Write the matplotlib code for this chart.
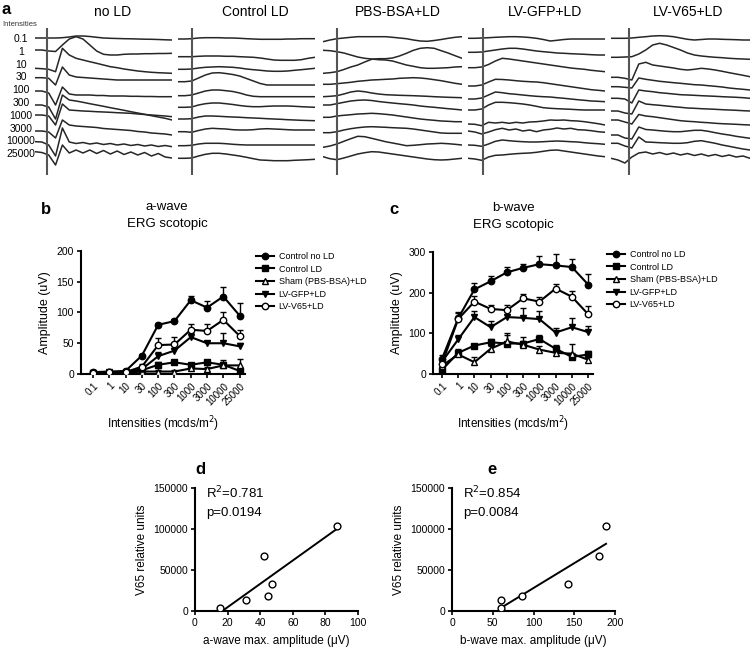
import numpy as np
import matplotlib.pyplot as plt

plt.rcParams['font.family'] = ['Liberation Sans', 'DejaVu Sans']

W, H = 752, 657

# ---------------- data ----------------
intensities = ["0.1", "1", "10", "30", "100", "300", "1000", "3000", "10000", "25000"]
groups = ["Control no LD", "Control LD", "Sham (PBS-BSA)+LD", "LV-GFP+LD", "LV-V65+LD"]
panel_names = ["no LD", "Control LD", "PBS-BSA+LD", "LV-GFP+LD", "LV-V65+LD"]

# a-wave (uV), mean and upper SEM
aw_ctrl_noLD = [3, 4, 5, 30, 80, 86, 120, 108, 126, 95]
aw_ctrl_LD = [1, 2, 3, 6, 15, 19, 15, 19, 15, 5]
aw_sham = [1, 2, 2, 4, 4, 4, 9, 8, 14, 14]
aw_gfp = [2, 3, 3, 8, 29, 38, 60, 50, 50, 45]
aw_v65 = [2, 3, 3, 12, 47, 48, 72, 70, 88, 62]
aw_err_ctrl_noLD = [2, 2, 2, 3, 3, 3, 7, 10, 15, 20]
aw_err_ctrl_LD = [1, 1, 1, 2, 4, 3, 3, 3, 4, 5]
aw_err_sham = [1, 1, 1, 2, 2, 2, 3, 3, 8, 10]
aw_err_gfp = [1, 1, 1, 3, 6, 4, 6, 4, 17, 5]
aw_err_v65 = [1, 1, 2, 4, 12, 12, 10, 12, 12, 10]

# b-wave (uV)
bw_ctrl_noLD = [37, 137, 208, 228, 250, 261, 270, 267, 263, 220]
bw_ctrl_LD = [10, 52, 70, 78, 75, 75, 86, 62, 42, 48]
bw_sham = [20, 48, 29, 62, 80, 72, 60, 52, 50, 35]
bw_gfp = [30, 85, 140, 115, 140, 138, 135, 102, 115, 103]
bw_v65 = [25, 135, 178, 160, 157, 186, 178, 210, 190, 147]
bw_err_ctrl_noLD = [10, 15, 15, 12, 12, 10, 20, 27, 20, 25]
bw_err_ctrl_LD = [5, 10, 5, 8, 25, 15, 10, 10, 10, 8]
bw_err_sham = [5, 8, 12, 8, 15, 10, 8, 8, 25, 8]
bw_err_gfp = [8, 10, 15, 15, 20, 25, 20, 10, 22, 15]
bw_err_v65 = [8, 15, 15, 10, 12, 10, 12, 12, 15, 20]

# correlations
v65_units = [3250, 13400, 67000, 18700, 32900, 104000]
a_max = [15.4, 31.4, 42.2, 45.0, 47.3, 87.1]
b_max = [60.2, 60.2, 180.0, 86.0, 142.0, 189.0]
d_stats = ("0.781", "0.0194")
e_stats = ("0.854", "0.0084")

# ERG traces, displacement per intensity row (sampled on 21 equal steps)
tr_noLD = [
    [0, 0, 0, 0, 0.3, 1, 2, 2, 1.5, 0.7, 0, -0.3, -0.5, -0.7, -0.8, -1, -1.2, -1.3, -1.5, -1.8, -2],
    [1, 1, 0, -0.5, 6, 12, 14.3, 12, 6, 0, -3.3, -4, -4, -3.3, -3, -3, -2.7, -2.7, -2.5, -2.5, -2.3],
    [-4.3, -4.7, -5.3, -7.7, 15.7, 9, 5.7, 4, 2.3, 0.7, -1, -2.7, -3.7, -5, -6, -7, -7.7, -8.3, -8.7, -9, -9.3],
    [-0.7, -0.7, -1.3, -8, 10, 2, 0, -0.5, -1, -1.5, -2, -2.5, -3, -3, -3, -3, -3, -3, -3, -3, -3],
    [-1, -1, -3, -15, 3, -4, -5, -5, -5, -5.5, -5.5, -6, -6, -6, -6.3, -6.3, -6.5, -6.5, -6.7, -6.7, -6.7],
    [-2, -2, -4, -16, 8, 3, 2, 0.7, -0.7, -2, -3.3, -4.7, -6, -7.3, -8.7, -10, -11.3, -12.7, -14, -15.3, -17],
    [1, 1, 0, -9, 12, 6, 5.5, 5, 4.7, 4.3, 4, 3.7, 3.3, 3, 2.7, 2, 1.5, 1, 0.5, 0, -0.7],
    [-2, -2, -3, -9, 9, 4, 3, 2.5, 2, 1.5, 0.5, 0, -0.5, -1, -1.5, -2.5, -3, -4, -4.5, -5, -6],
    [0.3, 0, -3, -14, 14, 0, -1.5, -0.5, -2, -1, -2.5, -1.5, -3, -2, -3.5, -2.5, -4, -3, -4.5, -3.5, -4.7],
    [3.3, 2.5, 0, -10, 10, 2, 5, 2, 5, 1.5, 4.5, 1, 4, 0.5, 3, 0, 2.5, -1, 1.5, -2, -3],
]
tr_ctrlLD = [
    [-1, -1, -0.7, 0, 0.3, 0.3, 0.3, 0, 0, -0.3, -0.7, -1, -1.3, -1.3, -1.3, -1.3, -1, -1, -0.7, -0.7, -0.7],
    [-5.7, -5.7, -5.7, -5.3, -5, -5, -5, -5.3, -5.3, -5.7, -6, -6.3, -7, -8, -9, -9.3, -9.3, -9.3, -8.7, -7.3, -6.3],
    [-5.3, -5.3, -5, -4, -3.3, -3, -2.7, -3, -3.3, -4, -5, -5.7, -6.3, -7, -7.3, -7.3, -7, -6.3, -5.7, -5, -4.3],
    [-4.7, -4.7, -4, -1, 2, 4, 4.3, 3.5, 2.5, 1, -1.5, -4, -6.5, -8, -8, -8, -8, -8, -8, -8, -8],
    [-5.7, -5.7, -5, -3, -1, 0, 0, -0.7, -1.5, -3, -5, -6.3, -6.7, -6.7, -6.7, -6.7, -6.7, -6.7, -6.7, -6.7, -6.7],
    [-4.3, -4.3, -4, -2, -0.7, 0, 0, -0.7, -1.5, -2.5, -3.3, -3.7, -3.7, -3.3, -3, -3, -3, -3.3, -3.7, -4, -4.3],
    [-3, -3, -2.7, -1, 0, 0, -0.3, -0.7, -1, -1.3, -1.7, -2, -2.3, -2.7, -3, -3.3, -3.7, -4, -4.3, -4.5, -4.7],
    [-2.7, -2.7, -3.3, -1.5, 0, 0.7, 0.3, 0, -0.7, -1, -1, -0.7, 0, 0.3, 0, -0.3, -0.7, -1, -1, -1, -1],
    [-3.7, -3.7, -3.3, -2, -1.3, -1.3, -1.3, -1.7, -2.3, -2.7, -3, -3, -3, -3, -3, -3, -3, -3, -3, -3, -3],
    [-3.3, -3.3, -3, -1, 0.7, 1.7, 1.7, 1, 0, -1, -2.3, -3.7, -5, -5.3, -5.7, -5.7, -5.7, -5.3, -5, -4.7, -4.3],
]
tr_pbs = [
    [-3.7, -2, -0.7, 0, 0.7, 1.3, 1.3, 1.3, 1.3, 1.3, 0.7, 0, -0.7, -2, -3, -3.3, -2.5, -1.5, -0.3, 0.7, 1.3],
    [0.7, 0.3, -0.7, -2, -4, -6, -7.3, -8, -8.7, -9, -10, -12, -14, -15.3, -16.7, -17.3, -17.3, -17, -16.7, -16, -15.7],
    [-9.3, -8.7, -7.7, -5.5, -3, -1, 2, 4.7, 5.3, 5.3, 6, 8, 10.7, 13.7, 15.7, 16.3, 15.7, 13.3, 11, 8.3, 5.7],
    [-7.3, -7.3, -6.7, -6, -5.3, -4.3, -3.7, -3, -2.7, -2.3, -2, -1.3, -1, -0.7, -1, -1.7, -2.7, -3.7, -5, -6.3, -7.3],
    [-6.7, -6.3, -5.7, -4, -2, -1, -1.7, -3, -4, -4.7, -5, -5.3, -5.5, -5.7, -6, -6.3, -6.7, -7, -7.3, -7.5, -7.7],
    [-2, -2, -0.7, 0.7, 2, 2.7, 3, 2.5, 1.5, 0.7, 0, -0.7, -1.3, -2, -3, -3.7, -4.3, -5, -5.7, -6.3, -7],
    [-1.3, -1.3, 0, 0.7, 1.3, 2, 2.3, 2.7, 2.3, 1.7, 1, 0, -1, -2, -3, -3.7, -4.3, -5, -5.3, -5.7, -5.7],
    [-3.7, -3.7, -2.7, -1, 0.3, 1.3, 2, 2.3, 2, 1.7, 1.3, 1, 0.7, 0, -1, -2, -3, -4, -4.3, -4.3, -4.3],
    [-5.3, -4, -2, 0.7, 3.3, 5.7, 5.3, 3.7, 2, 0.3, -1, -2.3, -3.7, -3.3, -2.7, -2, -1.7, -1.3, -1.7, -2.3, -3],
    [-1.7, -3.7, -4.7, -3, -1, 1, 2.3, 3.3, 3, 2, 1, 0, -1, -2, -3, -4, -4.7, -5, -4.7, -4, -3.3],
]
tr_gfp = [
    [-0.3, -0.3, 0, 0.3, 0.7, 1, 1.3, 1.3, 1, 0.5, -0.3, -1.5, -3, -2.3, -1.5, -1, -1, -1, -1, -1, -1],
    [-1.3, -1.3, -1, 0, 1, 2, 2.7, 2.7, 2, 1, 0, -0.7, -1.3, -2, -2.3, -2.7, -3, -3.3, -3.7, -4, -4],
    [-3.7, -3.7, -3, -0.5, 3, 5.7, 5, 4, 3, 2, 1, 0, -1, -2, -3, -4, -4.7, -5.3, -6.3, -7, -7.7],
    [-9, -9, -8, -5, -2.3, -2.5, -3, -3.7, -4.3, -4.7, -5, -5.7, -6.7, -7.7, -8.7, -9.7, -10.7, -11.7, -12.7, -13.3, -14],
    [-9, -9, -8, -5, -2, -2.7, -3.7, -4.3, -5, -5.7, -6.3, -6.7, -7, -7.7, -8.3, -9, -9.7, -10.3, -11, -11.3, -11.7],
    [-7, -7, -6, -2, 0.7, 0.7, 0.3, -0.3, -1, -2, -3.3, -4.7, -5.3, -5.7, -6, -6.3, -6.7, -7, -7, -7, -7],
    [-8, -8.3, -9.7, -6.3, -7, -6.3, -7.3, -6.3, -7, -6, -5.7, -5, -4, -4.3, -4, -4.7, -5, -5.7, -6.7, -7.7, -9],
    [-2, -3, -5, -3, -0.7, 0.7, -1, 0, -2, -1, -2.7, -1, -0.3, 1, 0, 0.7, -0.7, -1, -1.7, -2.7, -3.3],
    [-3, -3.3, -4.3, -2, 0.7, 2, 1.3, 0.7, 0.3, 0, 0, 0.3, 0.7, 1, 0.7, 0.3, 0, -0.7, -1.3, -1.7, -2.3],
    [-3.3, -4, -5.3, -2, -0.3, 0, 0.7, 1.3, 1.7, 2, 2.7, 3.7, 4.7, 5, 4, 3, 2, 1, 0, -1, -1.7],
]
tr_v65 = [
    [-0.3, -0.3, -0.3, 0, 0.7, 1.3, 2, 2.3, 2, 1.3, 0, -1.3, -2, -1.5, -1, -1, -1.3, -1.5, -1.7, -2, -2],
    [-6.3, -6.3, -6, -5.7, -3, 1, 6, 7.7, 6, 3.5, 1, -2, -4, -5, -5.7, -6.3, -6.7, -7.3, -7.7, -8, -8.3],
    [-13.3, -13.3, -14.3, -16, 0, 1.7, -1, -2, -3, -4, -5.3, -6, -5.3, -4.3, -5, -6, -7.3, -8.7, -10, -11.3, -12.7],
    [-9.7, -9.7, -10.3, -11, -1, -2.3, -3.3, -4.3, -5, -5.7, -6.3, -7, -7.7, -8, -8.7, -9.3, -10, -11, -11.7, -12.3, -13],
    [-8.3, -8.3, -9, -13, 0, -1, -1.7, -2.7, -3.3, -4, -4.7, -5, -5.3, -5.7, -6, -6.3, -6.7, -7, -7.3, -7.7, -8.3],
    [-8, -8, -10, -11, 2, -1, -1.7, -2.3, -3, -3.7, -4.3, -5, -5.3, -5.7, -6, -6.3, -6.7, -7, -7.3, -7.7, -8],
    [-4, -4, -6, -8, 1.5, 0, -0.7, -1.7, -2.7, -3.7, -4.7, -5.3, -5.7, -6.3, -6.7, -7.3, -7.7, -8, -8.3, -8.7, -9],
    [-6, -6, -9, -10, 2, -0.5, -1, -1.7, -2.3, -2.7, -2.7, -2, -1.3, -1.3, -2.3, -3.7, -5, -6, -7.3, -8.3, -9.3],
    [-1.3, -1.3, -4, -6, 5, 0, -0.3, -0.7, -1, -1.3, -1.3, -0.7, 0.7, 1.3, 0, -1.3, -3, -4.3, -5.7, -7, -8],
    [-3.3, -5, -8, -2, 2, 3, 1, 2.5, 0.5, 2, 0, 1.5, -0.5, 1, -1, 0.5, -1.5, 0, -2, -1, -3.3],
]


def px_axes(fig, x0, y0, x1, y1):
    # box given in image pixels (origin top-left)
    return fig.add_axes([x0 / W, 1 - y1 / H, (x1 - x0) / W, (y1 - y0) / H])


def fig_text(fig, x, y, s, **kw):
    fig.text(x / W, 1 - y / H, s, **kw)


fig = plt.figure(figsize=(W / 100, H / 100), dpi=100)

# ---------------- panel a: traces ----------------
t = np.linspace(0, 1, 21)
all_traces = [tr_noLD, tr_ctrlLD, tr_pbs, tr_gfp, tr_v65]
boxes = [(35, 172), (178, 315), (323, 462), (468, 605), (611, 750)]
onsets = [0.088, 0.10, 0.10, 0.11, 0.13]
title_x = [113, 255, 398, 545, 688]
row_gap = 13

for k, traces in enumerate(all_traces):
    ax = px_axes(fig, boxes[k][0], 28, boxes[k][1], 175)
    for i, tr in enumerate(traces):
        ax.plot(t, np.array(tr) - row_gap * i, color='#262626', lw=1.1)
    ax.axvline(onsets[k], color='#555555', lw=1.5)
    ax.set_xlim(0, 1)
    ax.set_ylim(-137, 10)
    ax.axis('off')
    fig_text(fig, title_x[k], 12, panel_names[k], ha='center', va='center', fontsize=10)

fig_text(fig, 2, 9, "a", fontsize=12, fontweight='bold', va='center')
fig_text(fig, 2, 24, "Intensities", fontsize=5.5, va='center', color='#333333')
for i, lab in enumerate(intensities):
    fig_text(fig, 21, 39 + 12.8 * i, lab, fontsize=7.5, ha='center', va='center')

# ---------------- panels b, c ----------------
styles = [('o', 'black'), ('s', 'black'), ('^', 'white'), ('v', 'black'), ('o', 'white')]


def line_panel(ax, means, errs, ymax, ystep):
    x = np.arange(len(intensities))
    for g, (m, e) in enumerate(zip(means, errs)):
        mk, fc = styles[g]
        eb = ax.errorbar(x, m, yerr=[np.zeros(len(e)), e], fmt='none', ecolor='black',
                         elinewidth=1.0, capsize=2.5, capthick=1.0, zorder=2)
        for cl in eb[1]:
            if np.allclose(cl.get_ydata(), m):
                cl.set_visible(False)
        ax.plot(x, m, color='black', lw=1.5, marker=mk, ms=4.6, mfc=fc, mec='black',
                mew=1.0, label=groups[g], zorder=3)
    ax.set_ylim(0, ymax)
    ax.set_yticks(np.arange(0, ymax + 1, ystep))
    ax.set_xticks(x)
    ax.set_xticklabels(intensities, rotation=45, ha='right', rotation_mode='anchor', fontsize=7)
    ax.tick_params(axis='y', labelsize=7.5)
    ax.tick_params(direction='out', length=3, width=1.2, pad=2)
    for s in ['top', 'right']:
        ax.spines[s].set_visible(False)
    for s in ['left', 'bottom']:
        ax.spines[s].set_linewidth(1.5)
    ax.set_ylabel("Amplitude (uV)", fontsize=9, labelpad=4)
    ax.set_xlabel("Intensities (mcds/m$^2$)", fontsize=8.5, labelpad=5)


axb = px_axes(fig, 81, 251, 245, 374)
line_panel(axb,
           [aw_ctrl_noLD, aw_ctrl_LD, aw_sham, aw_gfp, aw_v65],
           [aw_err_ctrl_noLD, aw_err_ctrl_LD, aw_err_sham, aw_err_gfp, aw_err_v65],
           200, 50)
axb.set_xlim(-0.74, 9.33)
axb.legend(loc='upper left', bbox_to_anchor=(256 / W, 1 - 252 / H), bbox_transform=fig.transFigure,
           frameon=False, fontsize=6.5, handlelength=2.0, handletextpad=0.5,
           labelspacing=0.4, borderpad=0, borderaxespad=0)
fig_text(fig, 46, 210, "b", fontsize=12, fontweight='bold', va='center', ha='center')
fig_text(fig, 167, 207, "a-wave", fontsize=9.5, ha='center', va='center')
fig_text(fig, 167, 224, "ERG scotopic", fontsize=9.5, ha='center', va='center')

axc = px_axes(fig, 433, 252, 593, 374)
line_panel(axc,
           [bw_ctrl_noLD, bw_ctrl_LD, bw_sham, bw_gfp, bw_v65],
           [bw_err_ctrl_noLD, bw_err_ctrl_LD, bw_err_sham, bw_err_gfp, bw_err_v65],
           300, 100)
axc.set_xlim(-0.55, 9.3)
axc.legend(loc='upper left', bbox_to_anchor=(607 / W, 1 - 250 / H), bbox_transform=fig.transFigure,
           frameon=False, fontsize=6.5, handlelength=2.0, handletextpad=0.5,
           labelspacing=0.4, borderpad=0, borderaxespad=0)
fig_text(fig, 394, 209, "c", fontsize=12, fontweight='bold', va='center', ha='center')
fig_text(fig, 513, 208, "b-wave", fontsize=9.5, ha='center', va='center')
fig_text(fig, 513, 225, "ERG scotopic", fontsize=9.5, ha='center', va='center')


# ---------------- panels d, e ----------------
def scatter_panel(ax, xs, ys, xmax, xstep, xlabel, stats):
    xs = np.array(xs)
    ys = np.array(ys)
    ax.scatter(xs, ys, s=24, facecolors='white', edgecolors='black', linewidths=1.0, zorder=3)
    slope, icpt = np.polyfit(xs, ys, 1)
    x0 = max(xs.min(), -icpt / slope)
    xx = np.array([x0, xs.max()])
    ax.plot(xx, slope * xx + icpt, color='black', lw=1.4, zorder=2)
    ax.set_xlim(0, xmax)
    ax.set_ylim(0, 150000)
    ax.set_xticks(np.arange(0, xmax + 1, xstep))
    ax.set_yticks([0, 50000, 100000, 150000])
    ax.ticklabel_format(style='plain', axis='y')
    ax.tick_params(direction='out', length=3, width=1.2, labelsize=7.5, pad=2)
    for s in ['top', 'right']:
        ax.spines[s].set_visible(False)
    for s in ['left', 'bottom']:
        ax.spines[s].set_linewidth(1.5)
    ax.set_ylabel("V65 relative units", fontsize=8.5, labelpad=4)
    ax.set_xlabel(xlabel, fontsize=8.5, labelpad=5)
    ax.text(0.07, 0.96, "R$^2$=" + stats[0], transform=ax.transAxes, fontsize=9.5, va='center')
    ax.text(0.07, 0.80, "p=" + stats[1], transform=ax.transAxes, fontsize=9.5, va='center')


axd = px_axes(fig, 195, 488, 358, 611)
scatter_panel(axd, a_max, v65_units, 100, 20, "a-wave max. amplitude (\u03bcV)", d_stats)
fig_text(fig, 200, 470, "d", fontsize=12, fontweight='bold', va='center', ha='center')

axe = px_axes(fig, 452, 488, 615, 611)
scatter_panel(axe, b_max, v65_units, 200, 50, "b-wave max. amplitude (\u03bcV)", e_stats)
fig_text(fig, 492, 470, "e", fontsize=12, fontweight='bold', va='center', ha='center')

fig.savefig("out.png", dpi=100)
